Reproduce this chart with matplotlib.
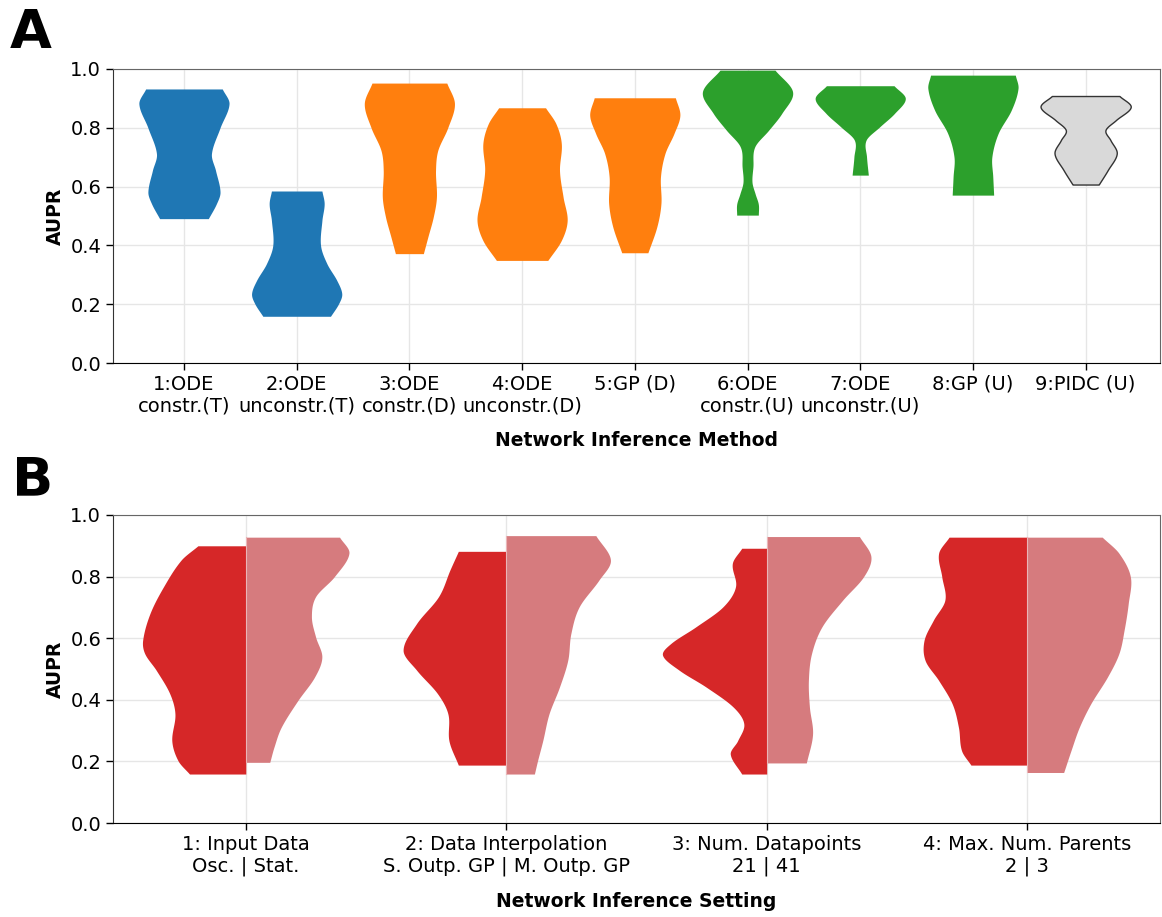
import numpy as np
import matplotlib.pyplot as plt

# Panel A: one violin per inference method (AUPR levels and relative half-widths)
method_labels = ["1:ODE\nconstr.(T)", "2:ODE\nunconstr.(T)", "3:ODE\nconstr.(D)",
                 "4:ODE\nunconstr.(D)", "5:GP (D)", "6:ODE\nconstr.(U)",
                 "7:ODE\nunconstr.(U)", "8:GP (U)", "9:PIDC (U)"]
method_colors = ["#1f77b4", "#1f77b4", "#ff7f0e", "#ff7f0e", "#ff7f0e",
                 "#2ca02c", "#2ca02c", "#2ca02c", "#d9d9d9"]
method_levels = [
    [0.491, 0.542, 0.582, 0.655, 0.712, 0.800, 0.882, 0.932],
    [0.159, 0.202, 0.236, 0.281, 0.338, 0.400, 0.485, 0.542, 0.585],
    [0.372, 0.429, 0.497, 0.564, 0.655, 0.723, 0.800, 0.882, 0.952],
    [0.349, 0.417, 0.485, 0.564, 0.655, 0.746, 0.814, 0.868],
    [0.375, 0.464, 0.543, 0.634, 0.713, 0.781, 0.843, 0.902],
    [0.503, 0.540, 0.575, 0.615, 0.667, 0.735, 0.792, 0.849, 0.922, 0.996],
    [0.639, 0.701, 0.758, 0.803, 0.849, 0.900, 0.943],
    [0.571, 0.634, 0.701, 0.781, 0.860, 0.934, 0.979],
    [0.607, 0.656, 0.713, 0.758, 0.792, 0.826, 0.871, 0.908],
]
method_widths = [
    [0.54, 0.72, 0.80, 0.70, 0.61, 0.80, 1.00, 0.85],
    [0.75, 0.93, 1.00, 0.89, 0.67, 0.53, 0.56, 0.61, 0.56],
    [0.31, 0.41, 0.53, 0.60, 0.58, 0.63, 0.85, 1.00, 0.83],
    [0.57, 0.87, 1.00, 0.91, 0.83, 0.87, 0.75, 0.52],
    [0.29, 0.49, 0.58, 0.57, 0.67, 0.87, 1.00, 0.90],
    [0.24, 0.24, 0.17, 0.10, 0.12, 0.16, 0.47, 0.76, 1.00, 0.61],
    [0.18, 0.14, 0.13, 0.43, 0.76, 1.00, 0.75],
    [0.46, 0.44, 0.42, 0.56, 0.85, 1.00, 0.94],
    [0.29, 0.49, 0.69, 0.55, 0.44, 0.67, 1.00, 0.75],
]

# Panel B: split violins per setting, left = first option, right = second
setting_labels = ["1: Input Data\nOsc. | Stat.",
                  "2: Data Interpolation\nS. Outp. GP | M. Outp. GP",
                  "3: Num. Datapoints\n21 | 41",
                  "4: Max. Num. Parents\n2 | 3"]
left_levels = [
    [0.159, 0.202, 0.267, 0.354, 0.420, 0.496, 0.550, 0.593, 0.680, 0.767, 0.854, 0.900],
    [0.188, 0.267, 0.354, 0.420, 0.496, 0.561, 0.648, 0.735, 0.822, 0.882],
    [0.159, 0.224, 0.267, 0.322, 0.376, 0.441, 0.496, 0.545, 0.583, 0.637, 0.702, 0.767, 0.843, 0.892],
    [0.188, 0.235, 0.311, 0.387, 0.463, 0.528, 0.593, 0.659, 0.724, 0.800, 0.876, 0.928],
]
left_widths = [
    [0.54, 0.65, 0.71, 0.68, 0.73, 0.86, 0.97, 0.99, 0.92, 0.79, 0.62, 0.46],
    [0.46, 0.55, 0.56, 0.66, 0.86, 0.99, 0.86, 0.65, 0.54, 0.46],
    [0.24, 0.35, 0.28, 0.22, 0.32, 0.58, 0.84, 1.00, 0.92, 0.68, 0.42, 0.30, 0.33, 0.24],
    [0.54, 0.63, 0.66, 0.72, 0.85, 0.98, 0.99, 0.90, 0.79, 0.82, 0.85, 0.75],
]
right_levels = [
    [0.197, 0.246, 0.311, 0.398, 0.474, 0.539, 0.604, 0.670, 0.735, 0.800, 0.876, 0.928],
    [0.159, 0.202, 0.267, 0.354, 0.441, 0.528, 0.615, 0.702, 0.789, 0.854, 0.933],
    [0.195, 0.289, 0.376, 0.463, 0.550, 0.637, 0.724, 0.800, 0.865, 0.930],
    [0.164, 0.235, 0.311, 0.387, 0.474, 0.550, 0.626, 0.713, 0.800, 0.876, 0.928],
]
right_widths = [
    [0.23, 0.27, 0.34, 0.50, 0.66, 0.73, 0.67, 0.63, 0.67, 0.85, 0.99, 0.90],
    [0.27, 0.30, 0.35, 0.41, 0.51, 0.59, 0.62, 0.70, 0.89, 1.00, 0.86],
    [0.38, 0.44, 0.41, 0.40, 0.43, 0.53, 0.73, 0.93, 1.00, 0.89],
    [0.35, 0.42, 0.50, 0.61, 0.77, 0.88, 0.93, 0.97, 0.99, 0.88, 0.72],
]
left_color = "#d62728"
right_color = "#d67b7e"

HALF = 0.4  # max half width of a violin in category units


def profile(levels, widths, per_seg=40):
    # cubic hermite curve through the outline points so edges come out round
    lv = np.asarray(levels, float)
    wd = np.asarray(widths, float)
    n = len(lv)
    m = np.zeros(n)
    m[1:-1] = (wd[2:] - wd[:-2]) / (lv[2:] - lv[:-2])
    m[0] = (wd[1] - wd[0]) / (lv[1] - lv[0])
    m[-1] = (wd[-1] - wd[-2]) / (lv[-1] - lv[-2])
    ys, ws = [], []
    for k in range(n - 1):
        h = lv[k + 1] - lv[k]
        t = np.linspace(0, 1, per_seg, endpoint=(k == n - 2))
        h00 = 2 * t**3 - 3 * t**2 + 1
        h10 = t**3 - 2 * t**2 + t
        h01 = -2 * t**3 + 3 * t**2
        h11 = t**3 - t**2
        ys.append(lv[k] + t * h)
        ws.append(h00 * wd[k] + h10 * h * m[k] + h01 * wd[k + 1] + h11 * h * m[k + 1])
    return np.concatenate(ys), np.clip(np.concatenate(ws), 0.02, None)


def style_axes(ax):
    ax.set_ylim(0, 1)
    ax.set_yticks(np.arange(0, 1.01, 0.2))
    ax.set_yticklabels([f"{v:.1f}" for v in np.arange(0, 1.01, 0.2)])
    ax.grid(True, color="#e6e6e6", lw=1)
    ax.set_axisbelow(True)
    ax.tick_params(labelsize=14, length=5, width=1)
    for side in ["top", "right"]:
        ax.spines[side].set_color("#666666")
    ax.spines["left"].set_color("#333333")
    ax.set_ylabel("AUPR", fontsize=13.5, fontweight="bold", labelpad=4)


fig = plt.figure(figsize=(11.62, 9.17), dpi=100)
ax_a = fig.add_axes([0.0972, 0.6041, 0.9011, 0.3207])
ax_b = fig.add_axes([0.0972, 0.1025, 0.9011, 0.3359])

for i in range(len(method_labels)):
    y, w = profile(method_levels[i], method_widths[i])
    if method_colors[i] == "#d9d9d9":
        ax_a.fill_betweenx(y, i - HALF * w, i + HALF * w, facecolor=method_colors[i],
                           edgecolor="#333333", lw=1)
    else:
        ax_a.fill_betweenx(y, i - HALF * w, i + HALF * w, color=method_colors[i], lw=0)

ax_a.set_xlim(-0.63, 8.66)
ax_a.set_xticks(range(len(method_labels)))
ax_a.set_xticklabels(method_labels)
style_axes(ax_a)
ax_a.set_xlabel("Network Inference Method", fontsize=13.5, fontweight="bold", labelpad=11)

for i in range(len(setting_labels)):
    y, w = profile(left_levels[i], left_widths[i])
    ax_b.fill_betweenx(y, i - HALF * w, i, color=left_color, lw=0)
    y, w = profile(right_levels[i], right_widths[i])
    ax_b.fill_betweenx(y, i, i + HALF * w, color=right_color, lw=0)
    ax_b.plot([i, i], [right_levels[i][0], right_levels[i][-1]], color="#eab5b7", lw=0.8)

ax_b.set_xlim(-0.51, 3.51)
ax_b.set_xticks(range(len(setting_labels)))
ax_b.set_xticklabels(setting_labels)
style_axes(ax_b)
ax_b.set_xlabel("Network Inference Setting", fontsize=13.5, fontweight="bold", labelpad=11)

fig.text(0.008, 0.9477, "A", fontsize=39, fontweight="bold", va="baseline")
fig.text(0.010, 0.4602, "B", fontsize=39, fontweight="bold", va="baseline")

fig.savefig("out.png", dpi=100)
